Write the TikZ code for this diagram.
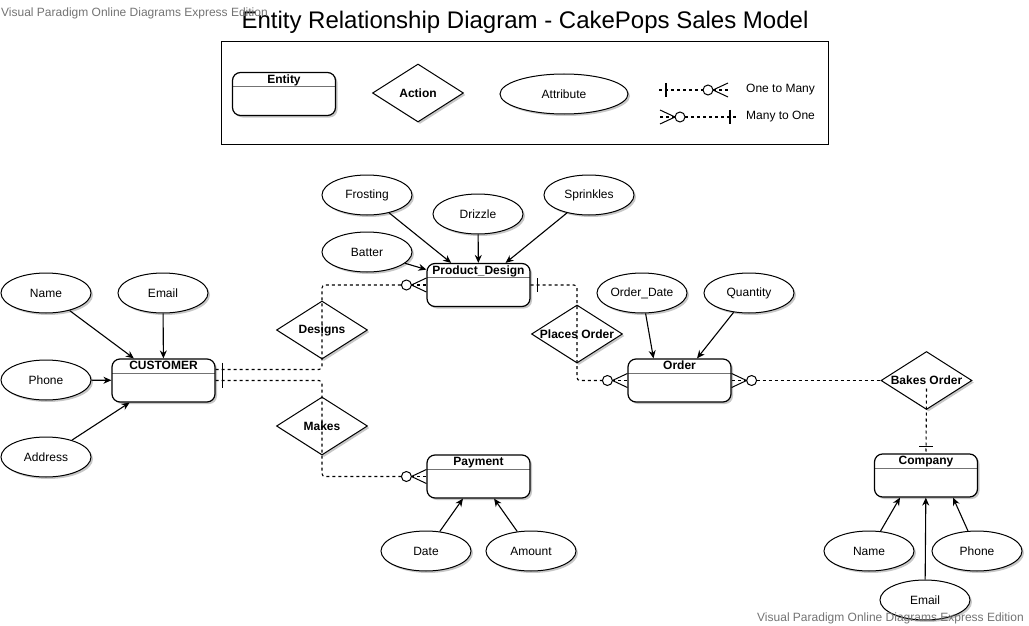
\documentclass[tikz,border=0pt]{standalone}
\usepackage{fontspec}
\setmainfont{Liberation Sans}
\usetikzlibrary{arrows.meta, calc, positioning, shapes.geometric, shadows}
\newcommand{\erfont}{\fontsize{12}{14}\selectfont}
\tikzset{
x=1pt, y=-1pt, % one unit per pixel, y runs downwards
every node/.style={inner sep=1pt, font=\erfont},
shadowed/.style={drop shadow={shadow xshift=2pt, shadow yshift=-2pt, opacity=.22, fill=black}},
entity/.style={draw, fill=white, line width=1.2pt, rounded corners=8pt, minimum width=103pt, minimum height=43pt, shadowed,
  path picture={\draw[line width=1pt, black!55] ([yshift=-14pt]path picture bounding box.north west) -- ([yshift=-14pt]path picture bounding box.north east);}},
etitle/.style={anchor=north, inner sep=2.5pt, font=\erfont\bfseries},
attr/.style={ellipse, draw, fill=white, line width=1pt, minimum width=90pt, minimum height=40pt, inner sep=0pt, shadowed},
action/.style={diamond, draw, fill=white, line width=1pt, minimum width=91pt, minimum height=58pt, inner sep=0pt, shadowed},
alabel/.style={font=\erfont\bfseries},
attach/.style={-{Stealth[length=8pt,width=7pt]}, line width=1.1pt}, % attribute to entity
rel/.style={dash pattern=on 3pt off 3pt, line width=1.1pt, rounded corners=3pt}, % relationship line
crowzero/.pic={ % zero-or-many end, entity at the origin
  \draw[line width=1pt] (-15,0) -- (0,-7) (-15,0) -- (0,7);
  \draw[rel] (-15,0) -- (0,0);
  \draw[line width=1pt, fill=white] (-20,0) circle (5pt);
},
onebar/.pic={\draw[line width=1.1pt] (7,-7) -- (7,7);}, % exactly-one end
watermark/.style={text=black!55, inner sep=0pt},
}

\begin{document}
\begin{tikzpicture}
  \useasboundingbox (0,0) rectangle (1029,626);

  \node[font=\fontsize{24}{28}\selectfont, anchor=base] (title) at (525,29) {Entity Relationship Diagram - CakePops Sales Model};

  % legend
  \node[draw, line width=1pt, minimum width=607pt, minimum height=102pt] (legend) at (524.5,93) {};
  \node[entity, label={[etitle]north:Entity}] (lent) at (284,94) {};
  \node[action, label={[alabel]center:Action}] (lact) at (418,93) {};
  \node[attr, minimum width=128pt] (latt) at (564,94) {Attribute};
  \coordinate (om1) at (659,90);
  \coordinate (om2) at (728,90);
  \draw[rel] (om1) -- ($(om2)+(-25,0)$);
  \pic at (om1) {onebar};
  \pic at (om2) {crowzero};
  \node[anchor=west] (omtxt) at (745,90) {One to Many};
  \coordinate (mo1) at (660,117);
  \coordinate (mo2) at (737,117);
  \draw[rel] ($(mo1)+(25,0)$) -- (mo2);
  \pic[xscale=-1] at (mo1) {crowzero};
  \pic[xscale=-1] at (mo2) {onebar};
  \node[anchor=west] (motxt) at (745,117) {Many to One};

  % entities
  \node[entity, label={[etitle]north:CUSTOMER}] (cust) at (163.5,380.5) {};
  \node[entity, label={[etitle]north:Product\_Design}] (pd) at (478.5,285) {};
  \node[entity, label={[etitle]north:Order}] (ord) at (679.5,380.5) {};
  \node[entity, label={[etitle]north:Payment}] (pay) at (478.5,476.5) {};
  \node[entity, label={[etitle]north:Company}] (comp) at (926,475.5) {};

  % actions
  \node[action, label={[alabel]center:Designs}] (designs) at (322,330) {};
  \node[action, label={[alabel]center:Makes}] (makes) at (322,426) {};
  \node[action, label={[alabel]center:Places Order}] (places) at (577,334) {};
  \node[action, label={[alabel]center:Bakes Order}] (bakes) at (926.5,380.5) {};

  % attributes
  \node[attr] (cname) at (46,293) {Name};
  \node[attr] (cemail) at (163,293) {Email};
  \node[attr] (cphone) at (46,380) {Phone};
  \node[attr] (caddr) at (46,457) {Address};
  \node[attr] (frost) at (367,195) {Frosting};
  \node[attr] (drizz) at (478,214) {Drizzle};
  \node[attr] (sprink) at (589,195) {Sprinkles};
  \node[attr] (batter) at (367,252) {Batter};
  \node[attr] (odate) at (642,293) {Order\_Date};
  \node[attr] (qty) at (749,293) {Quantity};
  \node[attr] (pdate) at (426,551) {Date};
  \node[attr] (amount) at (531,551) {Amount};
  \node[attr] (coname) at (869,551) {Name};
  \node[attr] (cophone) at (977,551) {Phone};
  \node[attr] (coemail) at (925,600) {Email};

  \draw[attach] (cname) -- (cust);
  \draw[attach] (cemail) -- (cust);
  \draw[attach] (cphone) -- (cust);
  \draw[attach] (caddr) -- (cust);
  \draw[attach] (frost) -- (pd);
  \draw[attach] (drizz) -- (pd);
  \draw[attach] (sprink) -- (pd);
  \draw[attach] (batter) -- (pd);
  \draw[attach] (odate) -- ([xshift=-26pt]ord.north);
  \draw[attach] (qty) -- (ord);
  \draw[attach] (pdate) -- (pay);
  \draw[attach] (amount) -- (pay);
  \draw[attach] (coname) -- ([xshift=-26pt]comp.south);
  \draw[attach] (coemail) -- (comp);
  \draw[attach] (cophone) -- ([xshift=27pt]comp.south);

  % relationships
  \draw[rel] ($(cust.east)+(0,-11)$) -| (designs.center) |- ($(pd.west)+(-25,0)$);
  \draw[rel] (cust.east) -| (makes.center) |- ($(pay.west)+(-25,0)$);
  \draw[rel] (pd.east) -| (places.center) |- ($(ord.west)+(-25,0)$);
  \draw[rel] ($(ord.east)+(25,0)$) -- (bakes.west);
  \draw[rel] ($(bakes.center)+(0,8)$) -- (comp.north);
  \pic at ($(cust.east)+(0,-11)$) {onebar};
  \pic at (cust.east) {onebar};
  \pic at (pd.east) {onebar};
  \pic[rotate=90] at (comp.north) {onebar};
  \pic at (pd.west) {crowzero};
  \pic at (pay.west) {crowzero};
  \pic at (ord.west) {crowzero};
  \pic[xscale=-1] at (ord.east) {crowzero};

  \node[watermark, anchor=base west] (wm1) at (1,17) {Visual Paradigm Online Diagrams Express Edition};
  \node[watermark, anchor=base west] (wm2) at (757,621) {Visual Paradigm Online Diagrams Express Edition};
\end{tikzpicture}
\end{document}
